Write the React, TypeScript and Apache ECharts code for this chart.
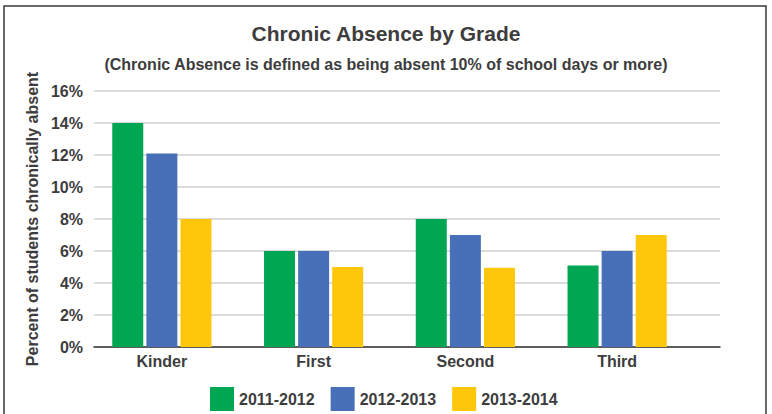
import React, { useEffect, useRef } from "react";
import * as echarts from "echarts";

const grades = ["Kinder", "First", "Second", "Third"];
const seriesNames = ["2011-2012", "2012-2013", "2013-2014"];
const values2011 = [14, 6, 8, 5.1];
const values2012 = [12.1, 6, 7, 6];
const values2013 = [8, 5, 4.95, 7];
const colors = ["#00A651", "#4870B8", "#FEC70B"];
const titleText = "Chronic Absence by Grade";
const subtitleText = "(Chronic Absence is defined as being absent 10% of school days or more)";
const yAxisName = "Percent of students chronically absent";

const FONT = "'Liberation Sans', Arial, Helvetica, sans-serif";
const TEXT = "#3d3d3d";

export default function App() {
  const ref = useRef<HTMLDivElement>(null);
  useEffect(() => {
    if (!ref.current) return;
    const chart = echarts.init(ref.current, undefined, { renderer: "svg" });
    const data = [values2011, values2012, values2013];
    chart.setOption({
      animation: false,
      backgroundColor: "#ffffff",
      textStyle: { fontFamily: FONT },
      title: [
        {
          text: titleText,
          left: "center",
          top: 18,
          textStyle: { fontSize: 21, fontWeight: "bold", color: TEXT, fontFamily: FONT },
        },
        {
          text: subtitleText,
          left: "center",
          top: 51,
          textStyle: { fontSize: 16, fontWeight: "bold", color: TEXT, fontFamily: FONT },
        },
      ],
      legend: {
        data: seriesNames,
        left: 205,
        top: 382,
        itemWidth: 24,
        itemHeight: 24,
        itemGap: 16,
        icon: "rect",
        textStyle: { fontSize: 16, fontWeight: "bold", color: TEXT, fontFamily: FONT },
      },
      grid: [
        { left: 94, right: 52, top: 91, bottom: 67 },
        { left: 86, right: 79, top: 91, bottom: 67 },
      ],
      xAxis: [
        {
          type: "value",
          gridIndex: 0,
          min: 0,
          max: 1,
          axisLine: { show: true, lineStyle: { color: "#333333", width: 1.5 } },
          axisTick: { show: false },
          axisLabel: { show: false },
          splitLine: { show: false },
        },
        {
          type: "category",
          gridIndex: 1,
          data: grades,
          axisLine: { show: false },
          axisTick: { show: false },
          axisLabel: {
            margin: 6,
            fontSize: 16,
            fontWeight: "bold",
            color: TEXT,
            fontFamily: FONT,
          },
        },
      ],
      yAxis: [
        {
          type: "value",
          gridIndex: 0,
          min: 0,
          max: 16,
          interval: 2,
          name: yAxisName,
          nameLocation: "middle",
          nameGap: 50,
          nameTextStyle: { fontSize: 16, fontWeight: "bold", color: TEXT, fontFamily: FONT },
          axisLine: { show: false },
          axisTick: { show: false },
          axisLabel: {
            formatter: "{value}%",
            margin: 11,
            fontSize: 16,
            fontWeight: "bold",
            color: TEXT,
            fontFamily: FONT,
          },
          splitLine: { show: true, lineStyle: { color: "#cfcfcf", width: 1.5 } },
        },
        {
          type: "value",
          gridIndex: 1,
          min: 0,
          max: 16,
          interval: 2,
          show: false,
          splitLine: { show: false },
        },
      ],
      series: seriesNames.map((name, i) => ({
        name,
        type: "bar",
        xAxisIndex: 1,
        yAxisIndex: 1,
        data: data[i],
        barWidth: 31,
        barGap: "10%",
        itemStyle: { color: colors[i] },
      })),
      graphic: [
        {
          type: "rect",
          shape: { x: 4, y: 6, width: 762, height: 430 },
          style: { fill: "none", stroke: "#3a3a3a", lineWidth: 1.5 },
          silent: true,
        },
      ],
    });
    return () => chart.dispose();
  }, []);
  return (
    <div
      ref={ref}
      style={{ position: "absolute", left: 0, top: 0, width: 772, height: 414 }}
    />
  );
}
